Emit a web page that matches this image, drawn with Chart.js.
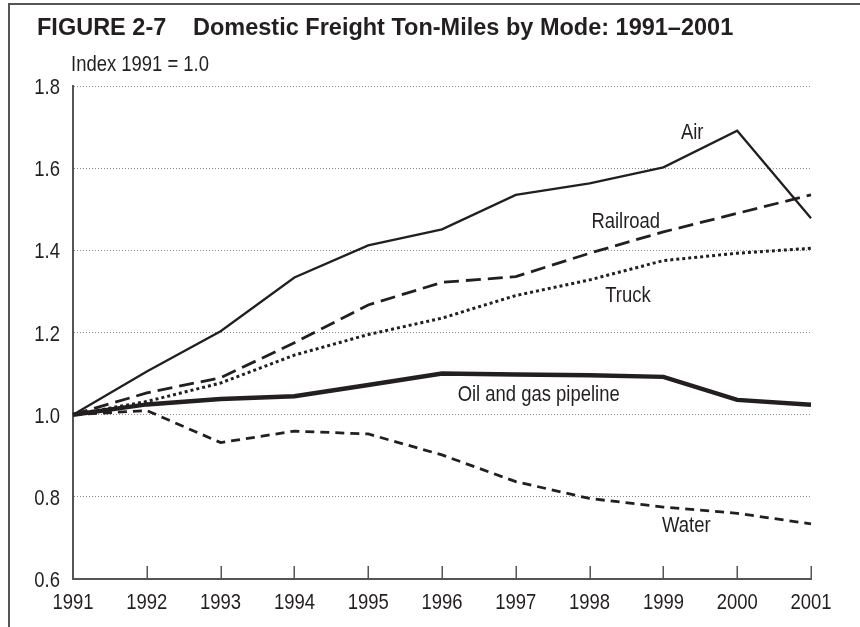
<!DOCTYPE html>
<html>
<head>
<meta charset="utf-8">
<script src="https://cdn.jsdelivr.net/npm/chart.js@4/dist/chart.umd.min.js"></script>
<style>
  html, body { margin: 0; padding: 0; background: #ffffff; }
  #wrap { width: 860px; height: 627px; }
</style>
</head>
<body>
<div id="wrap"><canvas id="c" width="860" height="627"></canvas></div>
<script>
// ---- Data ----
const years = ['1991','1992','1993','1994','1995','1996','1997','1998','1999','2000','2001'];
const air      = [1.000, 1.105, 1.203, 1.334, 1.412, 1.451, 1.535, 1.563, 1.602, 1.691, 1.478];
const railroad = [1.000, 1.053, 1.090, 1.175, 1.267, 1.322, 1.336, 1.393, 1.445, 1.490, 1.535];
const truck    = [1.000, 1.032, 1.077, 1.145, 1.195, 1.235, 1.290, 1.328, 1.375, 1.393, 1.405];
const pipeline = [1.000, 1.025, 1.038, 1.045, 1.072, 1.100, 1.098, 1.096, 1.092, 1.036, 1.024];
const water    = [1.000, 1.010, 0.932, 0.960, 0.953, 0.902, 0.837, 0.796, 0.775, 0.760, 0.734];
const seriesNames = ['Air', 'Railroad', 'Truck', 'Oil and gas pipeline', 'Water'];
const yTickValues = [0.6, 0.8, 1.0, 1.2, 1.4, 1.6, 1.8];
const titleNumber = 'FIGURE 2-7';
const titleText = 'Domestic Freight Ton-Miles by Mode: 1991\u20132001';
const yAxisTitle = 'Index 1991 = 1.0';
// label anchors in data space (category index, value)
const labelAtIndex = [8.39, 7.49, 7.52, 6.31, 8.31];
const labelAtValue = [1.690, 1.474, 1.294, 1.053, 0.734];

// ---- Styling ----
const INK = '#231f20';
const AXIS = '#555555';
const SANS = '"Liberation Sans", Arial, Helvetica, sans-serif';
const NARROW_SIZE = 22.5;
const NARROW_SCALE = 0.82;

// draws condensed-looking text (Helvetica Condensed style) by squeezing Liberation Sans
function narrowText(ctx, text, x, y, align, baseline) {
  ctx.save();
  ctx.translate(x, y);
  ctx.scale(NARROW_SCALE, 1);
  ctx.font = NARROW_SIZE + 'px ' + SANS;
  ctx.fillStyle = INK;
  ctx.textAlign = align;
  ctx.textBaseline = baseline || 'alphabetic';
  ctx.fillText(text, 0, 0);
  ctx.restore();
}

const framePlugin = {
  id: 'frame',
  beforeDraw(chart) {
    const ctx = chart.ctx;
    ctx.save();
    ctx.fillStyle = '#ffffff';
    ctx.fillRect(0, 0, chart.width, chart.height);
    ctx.strokeStyle = AXIS;
    ctx.lineWidth = 2;
    ctx.beginPath();
    ctx.moveTo(9, chart.height);
    ctx.lineTo(9, 4);
    ctx.lineTo(chart.width, 4);
    ctx.stroke();
    ctx.fillStyle = INK;
    ctx.textBaseline = 'alphabetic';
    ctx.textAlign = 'left';
    ctx.font = 'bold 23.5px ' + SANS;
    ctx.fillText(titleNumber, 37, 35);
    ctx.fillText(titleText, 193, 35);
    ctx.restore();
    narrowText(ctx, yAxisTitle, 71, 71, 'left');
  }
};

const axisPlugin = {
  id: 'axisDecor',
  afterDraw(chart) {
    const ctx = chart.ctx;
    const xs = chart.scales.x, ys = chart.scales.y;
    const bottom = chart.chartArea.bottom;
    const left = chart.chartArea.left;
    ctx.save();
    ctx.strokeStyle = AXIS;
    ctx.lineWidth = 1.5;
    ctx.beginPath();
    xs.ticks.forEach((t, i) => {
      if (i === 0) return;
      const px = Math.round(xs.getPixelForTick(i)) + 0.25;
      ctx.moveTo(px, bottom);
      ctx.lineTo(px, bottom - 13);
    });
    ctx.stroke();
    ctx.restore();
    // x tick labels
    xs.ticks.forEach((t, i) => {
      narrowText(ctx, xs.getLabelForValue(t.value), xs.getPixelForTick(i), bottom + 30, 'center');
    });
    // y tick labels
    ys.ticks.forEach((t, i) => {
      narrowText(ctx, Number(t.value).toFixed(1), left - 13, ys.getPixelForTick(i) + 8, 'right');
    });
  }
};

const labelsPlugin = {
  id: 'seriesLabels',
  afterDatasetsDraw(chart) {
    const ctx = chart.ctx;
    const xs = chart.scales.x, ys = chart.scales.y;
    seriesNames.forEach((name, i) => {
      narrowText(ctx, name, xs.getPixelForValue(labelAtIndex[i]), ys.getPixelForValue(labelAtValue[i]) + 8, 'center');
    });
  }
};

function ds(label, data, width, dash) {
  return {
    label, data,
    borderColor: INK,
    backgroundColor: INK,
    borderWidth: width,
    borderDash: dash,
    borderCapStyle: 'butt',
    borderJoinStyle: 'miter',
    pointRadius: 0,
    pointHoverRadius: 0,
    tension: 0,
    fill: false
  };
}

new Chart(document.getElementById('c'), {
  type: 'line',
  data: {
    labels: years,
    datasets: [
      ds(seriesNames[0], air, 2.3, []),
      ds(seriesNames[1], railroad, 2.8, [15, 7]),
      ds(seriesNames[2], truck, 3, [3, 3]),
      ds(seriesNames[3], pipeline, 4.5, []),
      ds(seriesNames[4], water, 2.8, [9, 6])
    ]
  },
  options: {
    responsive: false,
    animation: false,
    devicePixelRatio: 1,
    layout: { padding: { top: 86, right: 49, left: 0, bottom: 0 } },
    plugins: {
      legend: { display: false },
      tooltip: { enabled: false },
      title: { display: false }
    },
    scales: {
      x: {
        type: 'category',
        offset: false,
        grid: { display: false, drawTicks: false },
        border: { display: true, color: AXIS, width: 2 },
        ticks: { display: false, autoSkip: false, maxRotation: 0 },
        afterFit(s) { s.height = 48; }
      },
      y: {
        min: 0.6,
        max: 1.8,
        afterBuildTicks(s) { s.ticks = yTickValues.map(v => ({ value: v })); },
        grid: { color: '#8a8a8a', lineWidth: 1, drawTicks: false },
        border: { display: true, color: AXIS, width: 2, dash: [1, 2] },
        ticks: { display: false },
        afterFit(s) { s.width = 73; }
      }
    }
  },
  plugins: [framePlugin, axisPlugin, labelsPlugin]
});
</script>
</body>
</html>
